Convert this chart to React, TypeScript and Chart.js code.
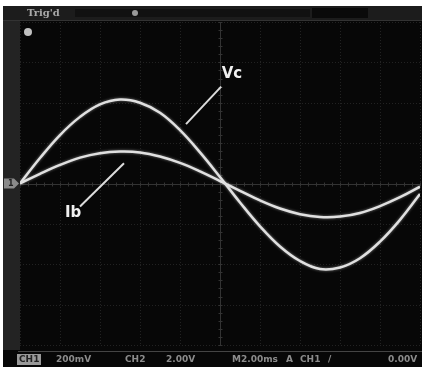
import React, { useEffect, useRef } from "react";
import { Chart, registerables } from "chart.js";

Chart.register(...registerables);

// horizontal divisions (time axis)
const timeDivs = [0, 0.5, 1, 1.5, 2, 2.5, 3, 3.5, 4, 4.5, 5, 5.5, 6, 6.5, 7, 7.5, 8, 8.5, 9, 9.5, 10];
// Vc trace, in vertical divisions
const vcValues = [0, 0.63, 1.2, 1.65, 1.96, 2.08, 2.0, 1.75, 1.32, 0.77, 0.16, -0.47, -1.06, -1.56, -1.92, -2.12, -2.08, -1.85, -1.44, -0.9, -0.26];
// Ib trace, in vertical divisions
const ibValues = [0, 0.24, 0.46, 0.64, 0.75, 0.79, 0.77, 0.67, 0.51, 0.3, 0.06, -0.18, -0.42, -0.62, -0.76, -0.83, -0.82, -0.73, -0.56, -0.34, -0.08];

const traceLabels = ["Vc", "Ib"];
// label anchors and leader lines in division units: [labelX, labelY, lineX1, lineY1, lineX2, lineY2]
const vcCallout = [5.3, 2.72, 5.03, 2.4, 4.15, 1.47];
const ibCallout = [1.33, -0.74, 2.6, 0.5, 1.5, -0.57];

const statusItems = ["CH1", "200mV", "CH2", "2.00V", "M2.00ms", "A", "CH1", "/", "0.00V"];
const topText = "Trig'd";

const scopePlugin = {
  id: "scope",
  beforeDraw(chart: any) {
    const { ctx, width, height } = chart;
    ctx.save();
    ctx.fillStyle = "#070707";
    ctx.fillRect(0, 0, width, height);
    ctx.fillStyle = "#ffffff";
    ctx.fillRect(0, 0, width, 6);
    ctx.fillRect(0, 0, 3, height);
    ctx.fillStyle = "#232323";
    ctx.fillRect(3, 6, 17, 344);
    ctx.fillStyle = "#1c1c1c";
    ctx.fillRect(3, 6, width - 3, 14);
    ctx.fillStyle = "#111111";
    ctx.fillRect(75, 9, 235, 8);
    ctx.fillStyle = "#0a0a0a";
    ctx.fillRect(312, 8, 56, 10);
    ctx.fillStyle = "#9a9a9a";
    ctx.beginPath();
    ctx.arc(135, 13, 3, 0, Math.PI * 2);
    ctx.fill();
    ctx.strokeStyle = "#333333";
    ctx.lineWidth = 1;
    ctx.beginPath();
    ctx.moveTo(3, 20.5);
    ctx.lineTo(width, 20.5);
    ctx.stroke();
    ctx.fillStyle = "#a8a8a8";
    ctx.font = "bold 10px 'DejaVu Serif'";
    ctx.textBaseline = "middle";
    ctx.fillText(topText, 27, 13);
    ctx.restore();
  },
  beforeDatasetsDraw(chart: any) {
    const { ctx, chartArea, scales } = chart;
    const x = scales.x;
    const y = scales.y;
    ctx.save();
    ctx.strokeStyle = "#222222";
    ctx.lineWidth = 1;
    ctx.setLineDash([1, 2]);
    for (let i = 0; i <= 10; i++) {
      const px = Math.round(x.getPixelForValue(i)) + 0.5;
      ctx.beginPath();
      ctx.moveTo(px, chartArea.top);
      ctx.lineTo(px, chartArea.bottom);
      ctx.stroke();
    }
    for (let j = -4; j <= 4; j++) {
      const py = Math.round(y.getPixelForValue(j)) + 0.5;
      ctx.beginPath();
      ctx.moveTo(chartArea.left, py);
      ctx.lineTo(chartArea.right, py);
      ctx.stroke();
    }
    ctx.setLineDash([]);
    ctx.strokeStyle = "#333333";
    const cx = Math.round(x.getPixelForValue(5)) + 0.5;
    const cy = Math.round(y.getPixelForValue(0)) + 0.5;
    ctx.beginPath();
    ctx.moveTo(chartArea.left, cy);
    ctx.lineTo(chartArea.right, cy);
    ctx.moveTo(cx, chartArea.top);
    ctx.lineTo(cx, chartArea.bottom);
    ctx.stroke();
    for (let t = 0; t <= 50; t++) {
      const px = Math.round(x.getPixelForValue(t * 0.2)) + 0.5;
      ctx.beginPath();
      ctx.moveTo(px, cy - 2);
      ctx.lineTo(px, cy + 2);
      ctx.stroke();
    }
    for (let t = 0; t <= 40; t++) {
      const py = Math.round(y.getPixelForValue(-4 + t * 0.2)) + 0.5;
      ctx.beginPath();
      ctx.moveTo(cx - 2, py);
      ctx.lineTo(cx + 2, py);
      ctx.stroke();
    }
    ctx.restore();
    ctx.save();
    ctx.shadowColor = "rgba(255,255,255,0.45)";
    ctx.shadowBlur = 3;
  },
  afterDatasetsDraw(chart: any) {
    chart.ctx.restore();
  },
  afterDraw(chart: any) {
    const { ctx, scales, width } = chart;
    const x = scales.x;
    const y = scales.y;
    ctx.save();
    const cy = y.getPixelForValue(0);
    ctx.fillStyle = "#8a8a8a";
    ctx.beginPath();
    ctx.moveTo(4, cy - 5);
    ctx.lineTo(14, cy - 5);
    ctx.lineTo(19, cy);
    ctx.lineTo(14, cy + 5);
    ctx.lineTo(4, cy + 5);
    ctx.closePath();
    ctx.fill();
    ctx.fillStyle = "#222";
    ctx.font = "bold 8px 'DejaVu Sans'";
    ctx.textBaseline = "middle";
    ctx.fillText("1", 8, cy + 0.5);
    ctx.fillStyle = "#c0c0c0";
    ctx.beginPath();
    ctx.arc(28, 32, 4, 0, Math.PI * 2);
    ctx.fill();
    const callouts = [vcCallout, ibCallout];
    ctx.strokeStyle = "#dcdcdc";
    ctx.fillStyle = "#f0f0f0";
    ctx.lineWidth = 2;
    ctx.font = "bold 15px 'DejaVu Sans'";
    ctx.textAlign = "center";
    ctx.textBaseline = "middle";
    callouts.forEach((c, i) => {
      ctx.beginPath();
      ctx.moveTo(x.getPixelForValue(c[2]), y.getPixelForValue(c[3]));
      ctx.lineTo(x.getPixelForValue(c[4]), y.getPixelForValue(c[5]));
      ctx.stroke();
      ctx.fillText(traceLabels[i], x.getPixelForValue(c[0]), y.getPixelForValue(c[1]));
    });
    ctx.strokeStyle = "#444444";
    ctx.lineWidth = 1;
    ctx.beginPath();
    ctx.moveTo(18, 351.5);
    ctx.lineTo(width, 351.5);
    ctx.stroke();
    ctx.fillStyle = "#999999";
    ctx.fillRect(17, 354, 24, 11);
    ctx.font = "bold 9px 'DejaVu Sans'";
    ctx.textAlign = "left";
    ctx.textBaseline = "middle";
    const xs = [19, 56, 125, 166, 232, 286, 300, 328, 388];
    statusItems.forEach((s, i) => {
      ctx.fillStyle = i === 0 ? "#222" : "#8c8c8c";
      ctx.fillText(s, xs[i], 360);
    });
    ctx.restore();
  },
};

export default function App() {
  const ref = useRef<HTMLCanvasElement>(null);
  useEffect(() => {
    document.body.style.margin = "0";
    const chart = new Chart(ref.current!, {
      type: "line",
      data: {
        datasets: [
          {
            label: traceLabels[0],
            data: timeDivs.map((t, i) => ({ x: t, y: vcValues[i] })),
            borderColor: "#e0e0e0",
            borderWidth: 2.5,
            pointRadius: 0,
            tension: 0.4,
          },
          {
            label: traceLabels[1],
            data: timeDivs.map((t, i) => ({ x: t, y: ibValues[i] })),
            borderColor: "#e0e0e0",
            borderWidth: 2.5,
            pointRadius: 0,
            tension: 0.4,
          },
        ],
      },
      options: {
        animation: false,
        responsive: false,
        layout: { padding: { left: 20, right: 2, top: 22, bottom: 22 } },
        plugins: { legend: { display: false }, tooltip: { enabled: false } },
        scales: {
          x: { type: "linear", min: 0, max: 10, display: false },
          y: { type: "linear", min: -4, max: 4, display: false },
        },
      },
      plugins: [scopePlugin],
    } as any);
    return () => chart.destroy();
  }, []);
  return (
    <div style={{ position: "fixed", left: 0, top: 0, width: 422, height: 367 }}>
      <canvas ref={ref} width={422} height={367} />
    </div>
  );
}
